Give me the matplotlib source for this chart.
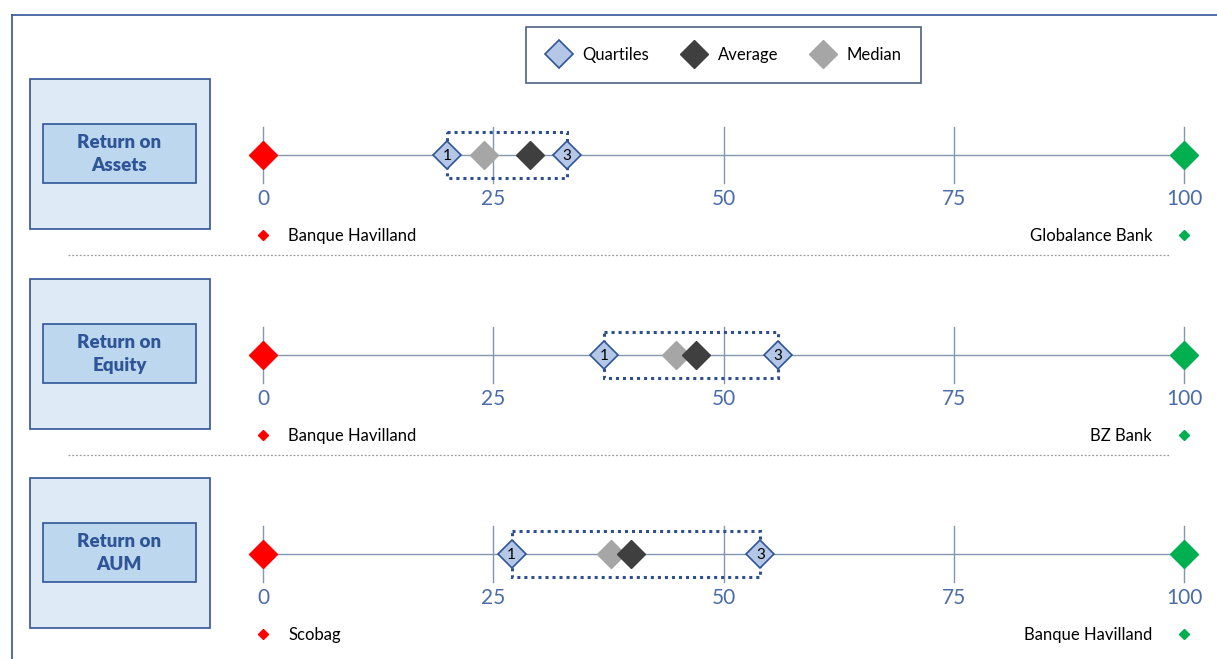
import matplotlib
matplotlib.use("Agg")
import matplotlib.pyplot as plt
from matplotlib.patches import Rectangle
from matplotlib.lines import Line2D

# ---------------- data ----------------
metrics = ["Return on\nAssets", "Return on\nEquity", "Return on\nAUM"]
q1 = [20.0, 37.0, 27.0]
median = [24.0, 44.8, 37.8]
average = [29.0, 47.0, 40.0]
q3 = [33.0, 55.9, 54.0]
low_bank = ["Banque Havilland", "Banque Havilland", "Scobag"]
high_bank = ["Globalance Bank", "BZ Bank", "Banque Havilland"]
scale_min = 0
scale_max = 100
ticks = [0, 25, 50, 75, 100]
tick_labels = ["0", "25", "50", "75", "100"]

# ---------------- style ----------------
W, H = 1217, 659
px_per_unit = 9.21
x0_px = 263
C_RED = "#FF0000"
C_GREEN = "#00B050"
C_Q_FILL = "#B4C7E7"
C_Q_EDGE = "#2F5597"
C_AVG = "#3F3F3F"
C_MED = "#A6A6A6"
C_AXIS = "#8497B0"
C_TICKTXT = "#4A6CA8"
C_NAVY = "#2F5597"
C_BOX_OUT = "#DEEAF6"
C_BOX_IN = "#BDD7EE"
C_DOT = "#2F4F8F"
FONT = "Lato"

row_y = [155, 355, 554]

fig = plt.figure(figsize=(W / 100, H / 100), dpi=100)
ax = fig.add_axes([0, 0, 1, 1])
ax.set_xlim(-x0_px / px_per_unit, (W - x0_px) / px_per_unit)
ax.set_ylim(H, 0)
ax.axis("off")

# outer border (top + left)
fig.add_artist(Line2D([12 / W, 12 / W], [0, 1 - 15 / H], color=C_NAVY, lw=1.2))
fig.add_artist(Line2D([12 / W, 1], [1 - 15 / H, 1 - 15 / H], color=C_NAVY, lw=1.2))

def px2x(px):
    return (px - x0_px) / px_per_unit

for i, y in enumerate(row_y):
    # left label boxes (figure pixel coords)
    top_out = y - 76
    fig.add_artist(Rectangle((30 / W, 1 - (top_out + 150) / H), 180 / W, 150 / H,
                             facecolor=C_BOX_OUT, edgecolor=C_NAVY, lw=1.2))
    fig.add_artist(Rectangle((43 / W, 1 - (y + 28) / H), 153 / W, 59 / H,
                             facecolor=C_BOX_IN, edgecolor=C_NAVY, lw=1.2))
    fig.text(119.5 / W, 1 - (y - 1) / H, metrics[i], ha="center", va="center",
             fontsize=13.5, fontweight="heavy", color=C_NAVY, family=FONT,
             linespacing=1.45)

    # axis line and ticks
    ax.plot([scale_min, scale_max], [y, y], color=C_AXIS, lw=1, zorder=1)
    for t, lab in zip(ticks, tick_labels):
        ax.plot([t, t], [y - 28, y + 28], color=C_AXIS, lw=1, zorder=1)
        ax.text(t, y + 44, lab, ha="center", va="center", fontsize=15,
                color=C_TICKTXT, family=FONT)

    # dotted IQR box
    ax.add_patch(Rectangle((q1[i], y - 23), q3[i] - q1[i], 46, fill=False,
                           edgecolor=C_DOT, lw=2.2, linestyle=(0, (1, 1.3)), zorder=2))

    # endpoints
    ax.plot([scale_min], [y], marker="D", ms=14, color=C_RED, mec=C_RED, zorder=3)
    ax.plot([scale_max], [y], marker="D", ms=14, color=C_GREEN, mec=C_GREEN, zorder=3)

    # median, average
    ax.plot([median[i]], [y], marker="D", ms=14, color=C_MED, mec=C_MED, zorder=4)
    ax.plot([average[i]], [y], marker="D", ms=14, color=C_AVG, mec=C_AVG, zorder=5)

    # quartiles
    for val, lab in ((q1[i], "1"), (q3[i], "3")):
        ax.plot([val], [y], marker="D", ms=14, color=C_Q_FILL, mec=C_Q_EDGE,
                mew=1.2, zorder=6)
        ax.text(val, y + 1, lab, ha="center", va="center", fontsize=11,
                color="black", family=FONT, zorder=7)

    # bank labels
    by = y + 80
    ax.plot([scale_min], [by], marker="D", ms=5.5, color=C_RED, mec=C_RED)
    ax.text(px2x(288), by + 1, low_bank[i], ha="left", va="center", fontsize=12,
            color="black", family=FONT)
    ax.plot([scale_max], [by], marker="D", ms=5.5, color=C_GREEN, mec=C_GREEN)
    ax.text(px2x(1152), by + 1, high_bank[i], ha="right", va="center", fontsize=12,
            color="black", family=FONT)

    # separators
    if i < len(row_y) - 1:
        ax.plot([px2x(68), px2x(1170)], [y + 100, y + 100], color="#9A9A9A",
                lw=0.9, linestyle=(0, (1.5, 1.5)))

# legend
handles = [
    Line2D([], [], ls="none", marker="D", ms=14, color=C_Q_FILL, mec=C_Q_EDGE, mew=1.2),
    Line2D([], [], ls="none", marker="D", ms=14, color=C_AVG, mec=C_AVG),
    Line2D([], [], ls="none", marker="D", ms=14, color=C_MED, mec=C_MED),
]
leg = fig.legend(handles, ["Quartiles", "Average", "Median"], ncol=3,
                 loc="center", bbox_to_anchor=(723.5 / W, 1 - 55 / H),
                 frameon=True, fancybox=False, prop={"family": FONT, "size": 12},
                 handlelength=1.6, handletextpad=0.6, columnspacing=1.9,
                 borderpad=1.2, borderaxespad=0)
leg.get_frame().set_edgecolor("#1F3864")
leg.get_frame().set_linewidth(1.2)

fig.savefig("out.png", dpi=100)
